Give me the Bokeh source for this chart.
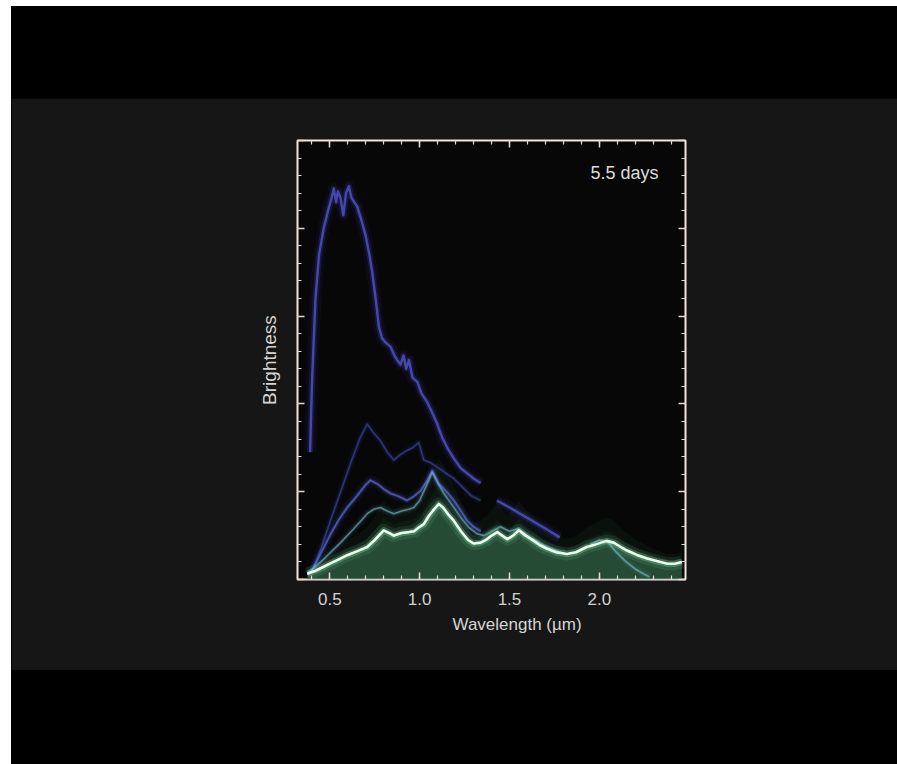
from bokeh.plotting import figure
from bokeh.models import LinearAxis, FixedTicker, Label, Div, Range1d, Title, CustomLabelingPolicy
from bokeh.layouts import column
from bokeh.embed import file_html
from bokeh.resources import INLINE
import numpy as np

# ---------------- data ----------------
# Earliest spectrum (blue, brightest)
x_d15 = [0.39, 0.40, 0.42, 0.44, 0.466, 0.49, 0.51, 0.522, 0.535, 0.545, 0.559, 0.575, 0.59, 0.606,
         0.62, 0.635, 0.652, 0.675, 0.699, 0.72, 0.736, 0.755, 0.773, 0.79, 0.81, 0.838, 0.86, 0.875,
         0.894, 0.91, 0.925, 0.94, 0.96, 0.987, 1.01, 1.042, 1.07, 1.098, 1.125, 1.154, 1.19, 1.228,
         1.27, 1.30, 1.34, float("nan"), 1.43, 1.50, 1.60, 1.70, 1.78]
y_d15 = [1.45, 2.2, 3.2, 3.7, 4.0, 4.2, 4.35, 4.45, 4.3, 4.42, 4.35, 4.15, 4.4, 4.48,
         4.35, 4.3, 4.25, 4.1, 3.92, 3.7, 3.5, 3.2, 2.88, 2.75, 2.7, 2.65, 2.55, 2.5,
         2.45, 2.55, 2.4, 2.5, 2.3, 2.25, 2.12, 2.02, 1.9, 1.77, 1.62, 1.5, 1.38, 1.27,
         1.2, 1.15, 1.1, float("nan"), 0.9, 0.82, 0.7, 0.58, 0.48]

x_d25 = [0.41, 0.45, 0.50, 0.56, 0.62, 0.67, 0.708, 0.74, 0.782, 0.82, 0.856, 0.89, 0.93, 0.96,
         0.995, 1.023, 1.06, 1.098, 1.14, 1.19, 1.24, 1.29, 1.34]
y_d25 = [0.14, 0.35, 0.65, 1.0, 1.35, 1.62, 1.77, 1.68, 1.58, 1.45, 1.36, 1.42, 1.47, 1.5,
         1.56, 1.36, 1.33, 1.28, 1.22, 1.15, 1.05, 0.95, 0.9]

x_d35 = [0.40, 0.45, 0.50, 0.55, 0.597, 0.65, 0.70, 0.726, 0.764, 0.80, 0.838, 0.88, 0.93, 0.97,
         1.005, 1.04, 1.07, 1.107, 1.15, 1.19, 1.23, 1.265, 1.30, 1.34]
y_d35 = [0.1, 0.3, 0.5, 0.68, 0.82, 0.95, 1.08, 1.13, 1.09, 1.03, 0.98, 0.95, 0.9, 0.95,
         1.01, 1.12, 1.24, 1.09, 1.0, 0.9, 0.78, 0.67, 0.6, 0.55]

x_d45 = [0.38, 0.45, 0.50, 0.56, 0.62, 0.67, 0.708, 0.745, 0.782, 0.82, 0.856, 0.90, 0.94, 0.968,
         1.0, 1.04, 1.07, 1.10, 1.135, 1.18, 1.228, 1.27, 1.32, 1.36, 1.40, 1.45, 1.50, 1.55, 1.60,
         1.65, 1.70, 1.75, 1.80, float("nan"), 1.95, 2.0, 2.05, 2.10, 2.15, 2.20, 2.25, 2.28]
y_d45 = [0.08, 0.2, 0.3, 0.42, 0.55, 0.66, 0.75, 0.8, 0.82, 0.78, 0.75, 0.78, 0.8, 0.82,
         0.9, 1.08, 1.22, 1.1, 0.98, 0.85, 0.71, 0.6, 0.52, 0.5, 0.55, 0.6, 0.55, 0.58, 0.5,
         0.44, 0.38, 0.34, 0.3, float("nan"), 0.4, 0.45, 0.42, 0.3, 0.2, 0.12, 0.06, 0.03]

# Current spectrum (5.5 days, bright green)
x_d55 = [0.374, 0.42, 0.46, 0.50, 0.55, 0.60, 0.65, 0.708, 0.75, 0.80, 0.83, 0.856, 0.90, 0.94,
         0.968, 1.0, 1.023, 1.05, 1.08, 1.107, 1.13, 1.16, 1.19, 1.23, 1.27, 1.30, 1.34, 1.376,
         1.40, 1.432, 1.46, 1.488, 1.52, 1.552, 1.59, 1.636, 1.67, 1.71, 1.76, 1.82, 1.87, 1.93,
         1.98, 2.04, 2.08, 2.12, 2.155, 2.21, 2.267, 2.32, 2.38, 2.42, 2.46]
y_d55 = [0.065, 0.1, 0.14, 0.18, 0.23, 0.28, 0.32, 0.37, 0.45, 0.56, 0.53, 0.50, 0.53, 0.54,
         0.55, 0.6, 0.63, 0.72, 0.8, 0.86, 0.82, 0.74, 0.67, 0.55, 0.45, 0.41, 0.42, 0.46,
         0.5, 0.54, 0.5, 0.46, 0.5, 0.56, 0.5, 0.44, 0.39, 0.35, 0.31, 0.29, 0.31, 0.37,
         0.4, 0.44, 0.42, 0.37, 0.33, 0.28, 0.24, 0.21, 0.18, 0.18, 0.2]

x_major_ticks = [0.5, 1.0, 1.5, 2.0]
x_tick_labels = {0.5: "0.5", 1.0: "1.0", 1.5: "1.5", 2.0: "2.0"}
x_minor_ticks = [round(0.3 + 0.1 * i, 2) for i in range(23)]
y_major_ticks = [0, 1, 2, 3, 4, 5]
y_minor_ticks = [round(0.2 * i, 2) for i in range(26)]
label_time = "5.5 days"
x_title = "Wavelength (µm)"
y_title = "Brightness"

FONT = "Liberation Sans"
TICK = "#e8d8cf"

p = figure(frame_width=388, frame_height=439, output_backend="svg", toolbar_location=None,
           x_range=Range1d(0.32, 2.48), y_range=Range1d(0, 5.0),
           x_axis_location=None, y_axis_location=None,
           min_border_left=286, min_border_right=212, min_border_top=42, min_border_bottom=91,
           background_fill_color="#070707", border_fill_color="#161616", margin=0)
p.grid.visible = False
p.outline_line_color = "#f3e4dc"
p.outline_line_width = 2

NO_LABELS = "for (const i of indices) { indices.unset(i) }\nreturn indices"


def style_axis(ax, labels):
    ax.axis_line_color = None
    ax.major_tick_in = 7
    ax.major_tick_out = 0
    ax.minor_tick_in = 4
    ax.minor_tick_out = 0
    ax.major_tick_line_color = TICK
    ax.minor_tick_line_color = TICK
    ax.major_tick_line_width = 1.5
    ax.minor_tick_line_width = 1.2
    if not labels:
        ax.major_label_policy = CustomLabelingPolicy(code=NO_LABELS)
        ax.major_label_standoff = 0
    else:
        ax.major_label_text_font_size = "17px"
        ax.major_label_text_color = "#d2d2d2"
        ax.major_label_text_font = FONT
        ax.major_label_standoff = 13


# bottom axis
xb = LinearAxis(ticker=FixedTicker(ticks=x_major_ticks, minor_ticks=x_minor_ticks))
style_axis(xb, True)
xb.major_label_overrides = x_tick_labels
p.add_layout(xb, "below")
# top axis
xt = LinearAxis(ticker=FixedTicker(ticks=x_major_ticks, minor_ticks=x_minor_ticks))
style_axis(xt, False)
p.add_layout(xt, "above")
# left axis
yl = LinearAxis(ticker=FixedTicker(ticks=y_major_ticks, minor_ticks=y_minor_ticks))
style_axis(yl, False)
yl.axis_label = y_title
yl.axis_label_text_font = FONT
yl.axis_label_text_font_style = "normal"
yl.axis_label_text_font_size = "19px"
yl.axis_label_text_color = "#d5d5d5"
yl.axis_label_standoff = 8
p.add_layout(yl, "left")
# right axis
yr = LinearAxis(ticker=FixedTicker(ticks=y_major_ticks, minor_ticks=y_minor_ticks))
style_axis(yr, False)
p.add_layout(yr, "right")

# x-axis title, slightly right of centre as in the reference
p.add_layout(Title(text=x_title, align="left", offset=155, standoff=11,
                   text_font=FONT, text_font_size="17px", text_font_style="normal",
                   text_color="#d5d5d5"), "below")

# ---- glow under / around the current spectrum ----
y55 = np.array(y_d55)
p.varea(x=x_d55, y1=0, y2=y55 * 1.6, fill_color="#2f7a4a", fill_alpha=0.08)
p.varea(x=x_d55, y1=0, y2=y55 * 1.25, fill_color="#2f7a4a", fill_alpha=0.10)
p.varea(x=x_d55, y1=0, y2=y55, fill_color="#3a7450", fill_alpha=0.55)


def glow_line(x, y, core, glow, alpha, width):
    p.line(x, y, line_color=glow, line_width=width * 5, line_alpha=alpha * 0.10, line_join="round")
    p.line(x, y, line_color=glow, line_width=width * 2.5, line_alpha=alpha * 0.28, line_join="round")
    p.line(x, y, line_color=core, line_width=width, line_alpha=alpha, line_join="round")


glow_line(x_d15, y_d15, "#5559d0", "#4448c8", 0.75, 2.4)
glow_line(x_d25, y_d25, "#4f53c8", "#4347c0", 0.5, 1.6)
glow_line(x_d35, y_d35, "#6272e0", "#4f60d8", 0.65, 2.0)
glow_line(x_d45, y_d45, "#88c8d0", "#5aa8c8", 0.55, 1.6)
glow_line(x_d55, y_d55, "#eefff2", "#8cf0b0", 1.0, 2.6)

p.add_layout(Label(x=2.33, y=4.625, text=label_time, text_align="right", text_baseline="middle",
                   text_font=FONT, text_font_size="18px", text_color="#dcdcdc"))

top = Div(text="", width=886, height=92, margin=0, styles={"background-color": "#000000"})
bottom = Div(text="", width=886, height=94, margin=0, styles={"background-color": "#000000"})
layout = column(top, p, bottom, spacing=0, margin=(6, 0, 0, 11),
                styles={"background-color": "#000000"})

open("out.html", "w").write(file_html(layout, INLINE))
